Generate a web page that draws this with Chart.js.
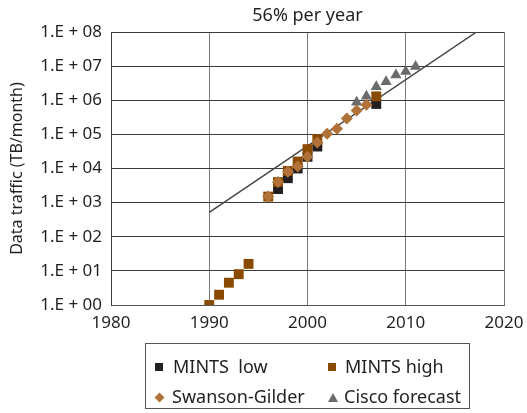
<!DOCTYPE html>
<html>
<head>
<meta charset="utf-8">
<script src="https://cdn.jsdelivr.net/npm/chart.js@4/dist/chart.umd.min.js"></script>
<style>
  html, body { margin: 0; padding: 0; background: #fff; }
  #wrap { position: relative; width: 527px; height: 413px; }
  #c { position: absolute; left: 0; top: 0; }
  #legend { position: absolute; left: 145px; top: 343px; width: 325px; height: 66px;
    border: 1px solid #555; box-sizing: border-box; font-family: "Noto Sans", sans-serif;
    font-size: 18px; color: #231f20; }
  .item { position: absolute; white-space: pre; line-height: 20px; }
  .mk { position: absolute; }
</style>
</head>
<body>
<div id="wrap">
  <canvas id="c" width="527" height="413"></canvas>
  <div id="legend"></div>
</div>
<script>
// ---- data ----
const titleText = "56% per year";
const yAxisTitle = "Data traffic (TB/month)";
const xTicks = [1980, 1990, 2000, 2010, 2020];
const yExponents = [0, 1, 2, 3, 4, 5, 6, 7, 8];

const mintsLowYears  = [1997, 1998, 1999, 2000, 2001, 2007];
const mintsLowValues = [2500, 5200, 10000, 22000, 44000, 780000];

const mintsHighYears  = [1990, 1991, 1992, 1993, 1994, 1996, 1997, 1998, 1999, 2000, 2001, 2007];
const mintsHighValues = [1, 2, 4.5, 8, 16, 1500, 4000, 8500, 16000, 37000, 72000, 1300000];

const swansonYears  = [1996, 1997, 1998, 1999, 2000, 2001, 2002, 2003, 2004, 2005, 2006];
const swansonValues = [1500, 4000, 8000, 11500, 22000, 58000, 105000, 145000, 290000, 500000, 740000];

const ciscoYears  = [2005, 2006, 2007, 2008, 2009, 2010, 2011];
const ciscoValues = [880000, 1300000, 2500000, 3500000, 5500000, 7000000, 9800000];

const trendYears  = [1990, 2017.2];
const trendValues = [520, 1e8];

const labels = ["MINTS  low", "MINTS high", "Swanson-Gilder", "Cisco forecast"];
const colors = { low: "#231f20", high: "#8a4a00", swan: "#b07238", cisco: "#6b6b6b", trend: "#444444" };

const pts = (xs, ys) => xs.map((x, i) => ({ x: x, y: ys[i] }));

const titlePlugin = {
  id: 'centerTitle',
  afterDraw(chart) {
    const { ctx, chartArea } = chart;
    ctx.save();
    ctx.font = '18px "Noto Sans", sans-serif';
    ctx.fillStyle = '#231f20';
    ctx.textAlign = 'center';
    ctx.textBaseline = 'middle';
    ctx.fillText(titleText, (chartArea.left + chartArea.right) / 2, 16);
    ctx.restore();
  }
};

new Chart(document.getElementById('c'), {
  type: 'scatter',
  data: {
    datasets: [
      { label: labels[2], data: pts(swansonYears, swansonValues), pointStyle: 'rectRot', pointRadius: 6,
        backgroundColor: colors.swan, borderWidth: 0, order: 0 },
      { label: labels[1], data: pts(mintsHighYears, mintsHighValues), pointStyle: 'rect', pointRadius: 7,
        backgroundColor: colors.high, borderWidth: 0, order: 1 },
      { label: labels[0], data: pts(mintsLowYears, mintsLowValues), pointStyle: 'rect', pointRadius: 7,
        backgroundColor: colors.low, borderWidth: 0, order: 2 },
      { label: labels[3], data: pts(ciscoYears, ciscoValues), pointStyle: 'triangle', pointRadius: 6.5,
        backgroundColor: colors.cisco, borderWidth: 0, order: 3 },
      { label: 'trend', data: pts(trendYears, trendValues), showLine: true, pointRadius: 0,
        borderColor: colors.trend, borderWidth: 1.5, backgroundColor: colors.trend, order: 4 }
    ]
  },
  options: {
    responsive: false,
    animation: false,
    devicePixelRatio: 1,
    layout: { padding: { left: 0, right: 23, top: 32, bottom: 80 } },
    plugins: { legend: { display: false }, tooltip: { enabled: false }, title: { display: false } },
    scales: {
      x: {
        type: 'linear', min: xTicks[0], max: xTicks[xTicks.length - 1],
        afterBuildTicks: s => { s.ticks = xTicks.map(v => ({ value: v })); },
        afterFit: s => { s.height = 28; s.paddingRight = 0; s.paddingLeft = 0; },
        grid: { color: '#777', lineWidth: 1, drawTicks: false },
        border: { color: '#555', width: 1 },
        ticks: { padding: 8, color: '#231f20', font: { family: 'Noto Sans', size: 17 },
                 callback: v => String(v), maxRotation: 0 }
      },
      y: {
        type: 'logarithmic', min: 1, max: 1e8,
        afterBuildTicks: s => { s.ticks = yExponents.map(e => ({ value: Math.pow(10, e) })); },
        afterFit: s => { s.width = 111; s.paddingTop = 0; s.paddingBottom = 0; },
        grid: { color: '#3a3a3a', lineWidth: 1, drawTicks: false },
        border: { color: '#3a3a3a', width: 1 },
        ticks: { padding: 9, color: '#231f20', font: { family: 'Noto Sans', size: 17 },
                 callback: v => '1.E + ' + String(Math.round(Math.log10(v))).padStart(2, '0') },
        title: { display: true, text: yAxisTitle, color: '#231f20',
                 font: { family: 'Noto Sans', size: 16 }, padding: { top: 8, bottom: 0 } }
      }
    }
  },
  plugins: [titlePlugin]
});

// ---- HTML legend (2 columns x 2 rows) ----
const legend = document.getElementById('legend');
const entries = [
  { text: labels[0], kind: 'sq', color: colors.low,   mx: 9,   tx: 27,  row: 0 },
  { text: labels[1], kind: 'sq', color: colors.high,  mx: 182, tx: 199, row: 0 },
  { text: labels[2], kind: 'di', color: colors.swan,  mx: 9,   tx: 26,  row: 1 },
  { text: labels[3], kind: 'tr', color: colors.cisco, mx: 182, tx: 198, row: 1 }
];
entries.forEach(e => {
  const cy = e.row === 0 ? 23 : 53;
  const mk = document.createElement('div');
  mk.className = 'mk';
  if (e.kind === 'sq') {
    Object.assign(mk.style, { left: e.mx + 'px', top: (cy - 4) + 'px', width: '8px', height: '8px', background: e.color });
  } else if (e.kind === 'di') {
    Object.assign(mk.style, { left: (e.mx + 1) + 'px', top: (cy - 3) + 'px', width: '7px', height: '7px', background: e.color, transform: 'rotate(45deg)' });
  } else {
    Object.assign(mk.style, { left: e.mx + 'px', top: (cy - 4) + 'px', width: '0', height: '0',
      borderLeft: '5px solid transparent', borderRight: '5px solid transparent', borderBottom: '9px solid ' + e.color });
  }
  legend.appendChild(mk);
  const t = document.createElement('div');
  t.className = 'item';
  t.textContent = e.text;
  t.style.left = e.tx + 'px';
  t.style.top = (cy - 11) + 'px';
  legend.appendChild(t);
});
</script>
</body>
</html>
